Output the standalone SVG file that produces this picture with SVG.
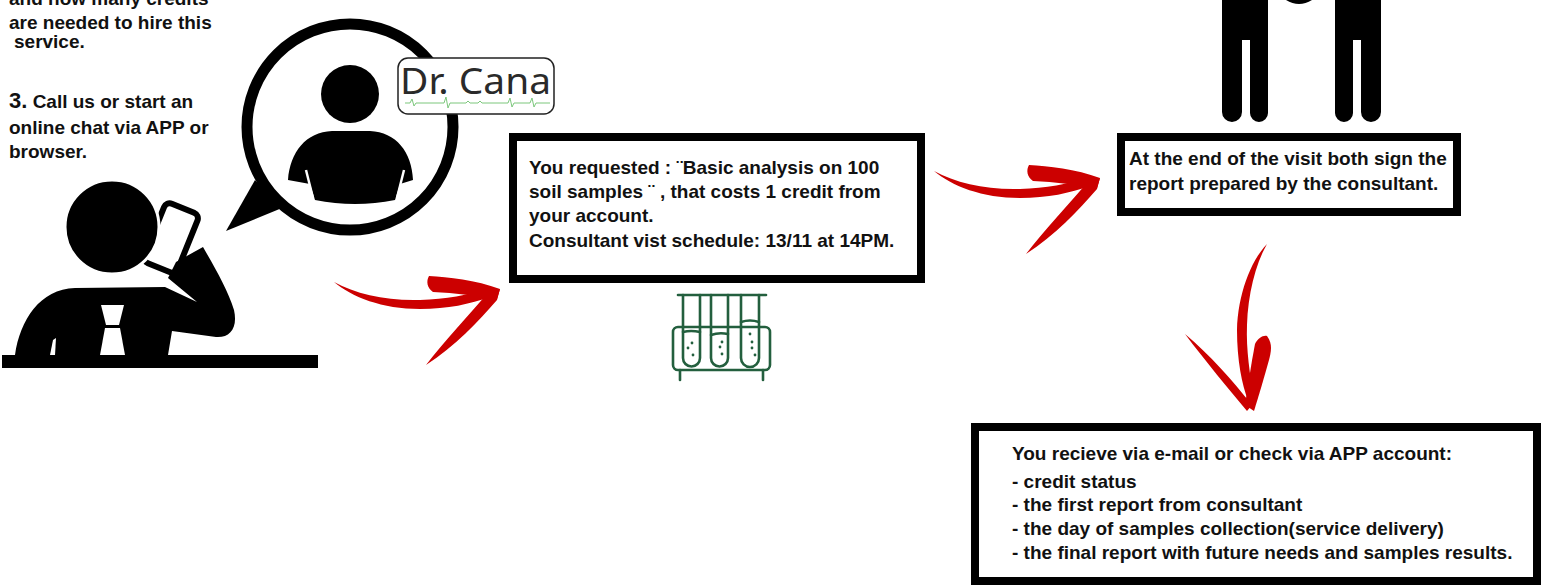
<svg xmlns="http://www.w3.org/2000/svg" xmlns:xlink="http://www.w3.org/1999/xlink" width="1542" height="585" viewBox="0 0 1542 585">
  <style>
    .t { font-family: "Liberation Sans", Arial, sans-serif; font-weight: bold; font-size: 19px; fill: #111; }
    .big { font-size: 22px; }
    .box { fill: #fff; stroke: #000; stroke-width: 8; }
    .ink { fill: #000; }
    .brush { fill: #cc0000; filter: url(#soft); }
    .lab { fill: none; stroke: #235f3e; stroke-width: 2.6; stroke-linejoin: round; stroke-linecap: round; }
  </style>
  <defs>
    <filter id="soft" x="-10%" y="-10%" width="120%" height="120%">
      <feGaussianBlur stdDeviation="0.6"/>
    </filter>
    <!-- hand-brushed curved arrow pointing right -->
    <g id="brushArrow">
      <path d="M334,282 C352,297 382,309 420,309 C448,309 470,304 490,297 L489,289 C468,295 446,299 420,300 C386,301 356,294 334,282 Z"/>
      <path d="M429,276 C448,277 476,280 500,289 L497,299 C477,296 455,293 433,292 C427,288 426,281 429,276 Z"/>
      <path d="M500,289 L497,300 C478,322 455,346 426,365 C444,342 466,318 486,295 Z"/>
    </g>
  </defs>

  <rect width="1542" height="585" fill="#fff"/>

  <!-- step text, top left -->
  <g id="node-intro">
    <text class="t" x="9" y="5">and how many credits</text>
    <text class="t" x="9" y="29">are needed to hire this</text>
    <text class="t" x="14" y="48">service.</text>
    <text class="t" x="9" y="108"><tspan class="big">3.</tspan> Call us or start an</text>
    <text class="t" x="9" y="134">online chat via APP or</text>
    <text class="t" x="9" y="158">browser.</text>
  </g>

  <!-- caller at desk -->
  <g id="node-caller">
    <rect x="2" y="355" width="316" height="13" class="ink"/>
    <rect x="-18" y="-32" width="36" height="64" rx="6" transform="translate(171,238) rotate(22)" fill="#fff" stroke="#000" stroke-width="6"/>
    <path class="ink" d="M15,355 C20,320 40,289 75,288 L165,287 L197,302 L168,278 L176,262 L203,247 C215,268 228,290 234,310 C238,328 230,338 216,337 L172,331 L168,355 Z"/>
    <circle cx="112" cy="227" r="47" class="ink" stroke="#fff" stroke-width="3"/>
    <polygon points="101,305 124,305 119,325 106,325" fill="#fff"/>
    <polygon points="105,328 120,328 125,355 100,355" fill="#fff"/>
    <polygon points="50,355 53,340 56,338 55,355" fill="#fff"/>
  </g>

  <!-- chat bubble with consultant -->
  <g id="node-chat">
    <polygon points="255,180 226,231 282,208" class="ink"/>
    <circle cx="350" cy="127" r="103" fill="#fff" stroke="#000" stroke-width="11"/>
    <circle cx="350" cy="94" r="29" class="ink"/>
    <path class="ink" d="M288,180 C290,152 306,132 332,131 L370,131 C396,132 412,152 413,180 L400,184 L395,200 Q355,208 315,200 L310,184 Z"/>
    <line x1="306" y1="170" x2="313" y2="198" stroke="#fff" stroke-width="2.5"/>
    <line x1="404" y1="170" x2="397" y2="198" stroke="#fff" stroke-width="2.5"/>
    <rect x="398" y="58" width="156" height="56" rx="10" fill="#fff" stroke="#222" stroke-width="1.5"/>
    <text x="400" y="94" font-family="'Noto Sans', 'Open Sans', sans-serif" font-size="37" fill="#2a2a2a" textLength="151" lengthAdjust="spacingAndGlyphs">Dr. Cana</text>
    <polyline fill="none" stroke="#7cc77c" stroke-width="1" points="405,103 410,103 412,99 414,106 416,103 444,103 446,97 448,108 450,103 466,103 468,101 470,103 478,103 480,101 482,103 508,103 510,98 512,107 514,103 530,103 532,98 534,107 536,103 550,103"/>
  </g>

  <!-- request summary -->
  <g id="node-request">
    <rect x="513" y="137" width="408" height="142" class="box"/>
    <text class="t" x="529" y="174">You requested : ¨Basic analysis on 100</text>
    <text class="t" x="529" y="198">soil samples ¨ , that costs 1 credit from</text>
    <text class="t" x="529" y="222">your account.</text>
    <text class="t" x="529" y="247">Consultant vist schedule: 13/11 at 14PM.</text>
  </g>

  <!-- sample tubes in rack -->
  <g id="node-tubes">
    <rect x="673" y="327" width="97" height="43" rx="5" class="lab"/>
    <line x1="680" y1="370" x2="680" y2="380" class="lab"/>
    <line x1="763" y1="370" x2="763" y2="380" class="lab"/>
    <path d="M683,295 L683,358 A8.5,8.5 0 0 0 700,358 L700,295" class="lab" fill="#fff"/>
    <path d="M711,295 L711,358 A8.5,8.5 0 0 0 728,358 L728,295" class="lab" fill="#fff"/>
    <path d="M741,295 L741,358 A9,9 0 0 0 759,358 L759,295" class="lab" fill="#fff"/>
    <line x1="678" y1="295" x2="766" y2="295" class="lab" stroke-width="3.2"/>
    <path d="M683,332 Q691,330 700,332" class="lab" stroke-width="1.8"/>
    <path d="M711,335 Q719,332 728,334" class="lab" stroke-width="1.8"/>
    <path d="M741,322 Q750,319 759,322" class="lab" stroke-width="1.8"/>
    <g fill="#235f3e">
      <circle cx="692" cy="343" r="1.4"/><circle cx="688" cy="348" r="1.4"/><circle cx="693" cy="355" r="1.4"/>
      <circle cx="722" cy="342" r="1.4"/><circle cx="720" cy="347" r="1.4"/><circle cx="722" cy="354" r="1.4"/>
      <circle cx="750" cy="334" r="1.4"/><circle cx="752" cy="342" r="1.4"/><circle cx="752" cy="348" r="1.4"/><circle cx="755" cy="355" r="1.4"/>
    </g>
  </g>

  <!-- consultant visit -->
  <g id="node-visit">
    <path class="ink" d="M1222,-5 L1268,-5 L1268,113 A9,9 0 0 1 1250,113 L1250,40 L1242,40 L1242,112 A10,10 0 0 1 1222,112 Z"/>
    <path class="ink" d="M1335,-5 L1381,-5 L1381,112 A10,10 0 0 1 1361,112 L1361,40 L1353,40 L1353,113 A9,9 0 0 1 1335,113 Z"/>
    <path class="ink" d="M1286,0 Q1299,8 1312,0 Z"/>
    <rect x="1121" y="137" width="336" height="75" class="box"/>
    <text class="t" x="1129" y="165">At the end of the visit both sign the</text>
    <text class="t" x="1129" y="190">report prepared by the consultant.</text>
  </g>

  <!-- final report -->
  <g id="node-report">
    <rect x="975" y="427" width="562" height="154" class="box"/>
    <text class="t" x="1012" y="460">You recieve via e-mail or check via APP account:</text>
    <text class="t" x="1012" y="488">- credit status</text>
    <text class="t" x="1012" y="511">- the first report from consultant</text>
    <text class="t" x="1012" y="535">- the day of samples collection(service delivery)</text>
    <text class="t" x="1012" y="559">- the final report with future needs and samples results.</text>
  </g>

  <!-- connectors -->
  <g id="connectors" class="brush">
    <use xlink:href="#brushArrow"/>
    <use xlink:href="#brushArrow" transform="translate(600,-111)"/>
    <path d="M1267,244 C1250,262 1238,295 1237,330 C1237,360 1242,385 1248,400 L1254,398 C1250,375 1246,350 1247,325 C1248,295 1255,265 1267,244 Z"/>
    <path d="M1267,336 C1273,344 1271,352 1269,360 C1264,378 1259,395 1254,411 L1245,405 C1248,385 1251,365 1255,344 C1258,338 1263,335 1267,336 Z"/>
    <path d="M1185,334 C1210,355 1232,380 1252,405 L1247,411 C1228,388 1206,362 1185,334 Z"/>
  </g>
</svg>
